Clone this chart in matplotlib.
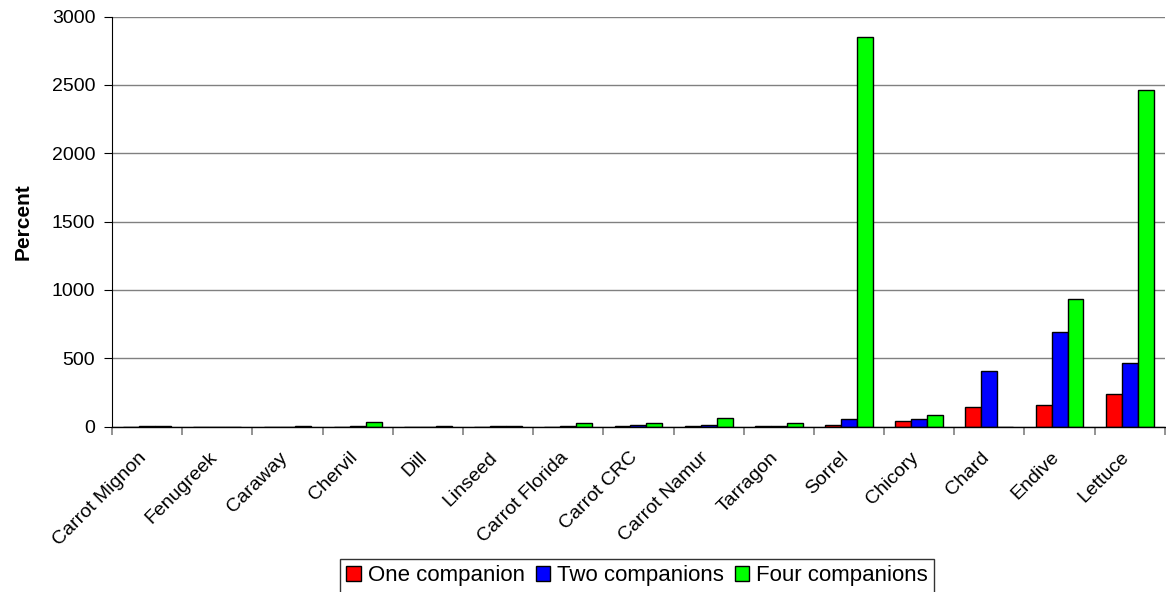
import matplotlib
matplotlib.use("Agg")
import matplotlib.pyplot as plt
import matplotlib.transforms as mtransforms
import numpy as np

plt.rcParams['font.family'] = ['Liberation Sans', 'DejaVu Sans']

categories = ["Carrot Mignon", "Fenugreek", "Caraway", "Chervil", "Dill", "Linseed",
              "Carrot Florida", "Carrot CRC", "Carrot Namur", "Tarragon", "Sorrel",
              "Chicory", "Chard", "Endive", "Lettuce"]
one_companion = [0, 0, 0, 0, 0, 0, 0, 5, 5, 5, 15, 42, 144, 161, 239]
two_companions = [3, 0, 0, 5, 0, 5, 4, 15, 15, 5, 58, 56, 409, 692, 463]
four_companions = [4, 0, 4, 38, 4, 5, 30, 30, 65, 30, 2850, 83, 0, 934, 2462]
series_names = ["One companion", "Two companions", "Four companions"]
series_colors = ["#ff0000", "#0000ff", "#00ff00"]
yticks = [0, 500, 1000, 1500, 2000, 2500, 3000]

fig = plt.figure(figsize=(11.66, 5.92), dpi=100)
ax = fig.add_axes([112 / 1166, 1 - 426.7 / 592, (1166 - 112) / 1166 - 0.001, (426.7 - 16.5) / 592])

x = np.arange(len(categories))
w = 0.227
for i, (vals, name, col) in enumerate(zip([one_companion, two_companions, four_companions],
                                          series_names, series_colors)):
    ax.bar(x + (i - 1) * w, vals, width=w, color=col, edgecolor="black",
           linewidth=1.0, label=name, zorder=3)

ax.set_xlim(-0.5, len(categories) - 0.5)
ax.set_ylim(0, 3000)
ax.set_yticks(yticks)
ax.set_yticklabels([str(t) for t in yticks], fontsize=14)
ax.yaxis.grid(True, color="#808080", linewidth=1.0, zorder=0)
ax.set_axisbelow(True)

for s in ["top", "right"]:
    ax.spines[s].set_visible(False)
ax.spines["left"].set_color("black")
ax.spines["bottom"].set_color("black")
ax.spines["bottom"].set_linewidth(1.0)
ax.spines["bottom"].set_zorder(4)

ax.set_xticks(x)
ax.set_xticklabels(categories, rotation=45, ha="right", rotation_mode="anchor", fontsize=14)
ax.tick_params(axis="x", length=0, pad=16)
ax.set_xticks(np.arange(len(categories) + 1) - 0.5, minor=True)
ax.tick_params(axis="x", which="minor", length=6, color="#808080", width=1.2)
ax.tick_params(axis="y", length=6, direction="out", pad=6)

# nudge the rotated category labels a little to the left
shift = mtransforms.ScaledTranslation(-9 / 100, 0, fig.dpi_scale_trans)
for lbl in ax.get_xticklabels():
    lbl.set_transform(lbl.get_transform() + shift)

ax.set_ylabel("Percent", fontsize=15, fontweight="bold", labelpad=14)

leg = fig.legend(loc="center", bbox_to_anchor=(637 / 1166, 1 - 576 / 592), ncol=3,
                 fontsize=16, frameon=True, fancybox=False, edgecolor="black",
                 handlelength=0.65, handleheight=0.65, handletextpad=0.3,
                 columnspacing=0.5, borderpad=0.3)
leg.get_frame().set_linewidth(1.0)

fig.savefig("out.png", dpi=100)
